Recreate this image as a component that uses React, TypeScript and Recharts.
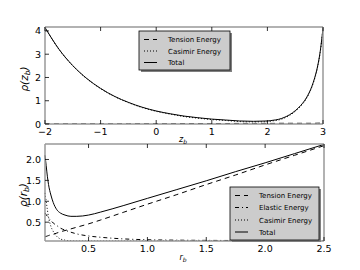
import React from "react";
import { LineChart, Line, XAxis, YAxis } from "recharts";

const zTop = [-2, -1.75, -1.5, -1.25, -1, -0.75, -0.5, -0.25, 0, 0.25, 0.5, 0.75, 1, 1.25, 1.5, 1.75, 2, 2.1, 2.2, 2.3, 2.4, 2.5, 2.6, 2.7, 2.8, 2.85, 2.9, 2.95, 3];
const totalTop = [4.15, 3.22, 2.51, 1.96, 1.53, 1.19, 0.93, 0.72, 0.56, 0.44, 0.34, 0.27, 0.21, 0.17, 0.13, 0.115, 0.13, 0.16, 0.2, 0.28, 0.4, 0.57, 0.8, 1.12, 1.62, 1.98, 2.45, 3.12, 4.12];
const tensionTop = [0.01, 0.01, 0.01, 0.01, 0.01, 0.01, 0.01, 0.015, 0.015, 0.015, 0.02, 0.02, 0.02, 0.02, 0.025, 0.025, 0.025, 0.025, 0.03, 0.03, 0.03, 0.03, 0.03, 0.03, 0.03, 0.03, 0.035, 0.035, 0.035];
const casimirTop = [4.14, 3.21, 2.5, 1.95, 1.52, 1.18, 0.92, 0.705, 0.545, 0.425, 0.32, 0.25, 0.19, 0.15, 0.105, 0.09, 0.1, 0.135, 0.17, 0.25, 0.37, 0.54, 0.77, 1.09, 1.59, 1.95, 2.415, 3.085, 4.085];
const zTicks = [-2, -1, 0, 1, 2, 3];
const rhoZTicks = [0, 1, 2, 3, 4];

const rBot = [0.13, 0.14, 0.15, 0.16, 0.18, 0.2, 0.23, 0.26, 0.3, 0.35, 0.4, 0.5, 0.6, 0.8, 1.0, 1.25, 1.5, 1.75, 2.0, 2.25, 2.5];
const totalBot = [2.1, 1.85, 1.6, 1.4, 1.15, 0.97, 0.8, 0.72, 0.67, 0.64, 0.64, 0.67, 0.74, 0.9, 1.07, 1.28, 1.49, 1.71, 1.92, 2.14, 2.36];
const tensionBot = [0.15, 0.16, 0.17, 0.18, 0.2, 0.21, 0.24, 0.27, 0.3, 0.34, 0.38, 0.46, 0.55, 0.74, 0.93, 1.16, 1.4, 1.63, 1.87, 2.1, 2.33];
const elasticBot = [0.72, 0.68, 0.64, 0.6, 0.54, 0.48, 0.42, 0.36, 0.31, 0.26, 0.22, 0.17, 0.14, 0.1, 0.08, 0.07, 0.065, 0.062, 0.06, 0.058, 0.056];
const casimirBot = [1.2, 1.0, 0.8, 0.62, 0.4, 0.28, 0.16, 0.1, 0.07, 0.055, 0.05, 0.05, 0.05, 0.05, 0.05, 0.05, 0.05, 0.05, 0.05, 0.05, 0.05];
const rTicks = [0.5, 1.0, 1.5, 2.0, 2.5];
const rhoRTicks = [0.5, 1.0, 1.5, 2.0];

const topData = zTop.map((z, i) => ({ z, total: totalTop[i], tension: tensionTop[i], casimir: casimirTop[i] }));
const botData = rBot.map((r, i) => ({ r, total: totalBot[i], tension: tensionBot[i], elastic: elasticBot[i], casimir: casimirBot[i] }));

const FONT = "DejaVu Sans";
const FRAME = { stroke: "#999999", strokeWidth: 1.5 };
const DASH = "5 4";
const DOT = "1 2";
const DASHDOT = "4 3 1 3";

const fmtInt = (v: number) => (v < 0 ? "\u2212" + Math.abs(v) : String(v));
const fmt1 = (v: number) => v.toFixed(1);

const BottomTick = (fmt: (v: number) => string) => (props: any) => {
  const { x, y, payload } = props;
  return (
    <g>
      <line x1={x} x2={x} y1={y} y2={y - 4} stroke="#000" strokeWidth={0.8} />
      <text x={x} y={y + 10.5} textAnchor="middle" fontSize={9.5} fontFamily={FONT} fill="#000">
        {fmt(payload.value)}
      </text>
    </g>
  );
};
const LeftTick = (fmt: (v: number) => string) => (props: any) => {
  const { x, y, payload } = props;
  return (
    <g>
      <line x1={x} x2={x + 4} y1={y} y2={y} stroke="#000" strokeWidth={0.8} />
      <text x={x - 4} y={y + 3.5} textAnchor="end" fontSize={9.5} fontFamily={FONT} fill="#000">
        {fmt(payload.value)}
      </text>
    </g>
  );
};
const TopTick = (props: any) => {
  const { x, y } = props;
  return <line x1={x} x2={x} y1={y} y2={y + 4} stroke="#000" strokeWidth={0.8} />;
};
const RightTick = (props: any) => {
  const { x, y } = props;
  return <line x1={x} x2={x - 4} y1={y} y2={y} stroke="#000" strokeWidth={0.8} />;
};

const LegendBox = ({ x, y, w, h, items }: { x: number; y: number; w: number; h: number; items: { label: string; dash?: string; ly: number }[] }) => (
  <g>
    <rect x={x + 2} y={y + 2} width={w} height={h} fill="#808080" />
    <rect x={x} y={y} width={w} height={h} fill="#cccccc" stroke="#000" strokeWidth={0.8} />
    {items.map((it) => (
      <g key={it.label}>
        <line x1={x + 5} x2={x + 18} y1={it.ly} y2={it.ly} stroke="#000" strokeWidth={1} strokeDasharray={it.dash} />
        <text x={x + 29} y={it.ly + 2.5} fontSize={7} fontFamily={FONT} fill="#000">
          {it.label}
        </text>
      </g>
    ))}
  </g>
);

export default function App() {
  return (
    <div style={{ position: "absolute", left: 0, top: 0, width: 360, height: 270, background: "#fff" }}>
      <div style={{ position: "absolute", left: 0, top: 0 }}>
        <LineChart width={360} height={150} data={topData} margin={{ top: 26, right: 36, bottom: 25, left: 44 }}>
          <XAxis dataKey="z" type="number" domain={[-2, 3]} ticks={zTicks} height={1} tickSize={0} tickMargin={0} axisLine={FRAME} tickLine={false} tick={BottomTick(fmtInt)} interval={0} />
          <XAxis xAxisId="t" dataKey="z" type="number" orientation="top" domain={[-2, 3]} ticks={zTicks} height={1} tickSize={0} tickMargin={0} axisLine={FRAME} tickLine={false} tick={TopTick} interval={0} />
          <YAxis type="number" domain={[0, 4.17]} ticks={rhoZTicks} width={1} tickSize={0} tickMargin={0} axisLine={FRAME} tickLine={false} tick={LeftTick(String)} allowDataOverflow interval={0} />
          <YAxis yAxisId="r" type="number" orientation="right" domain={[0, 4.17]} ticks={rhoZTicks} width={1} tickSize={0} tickMargin={0} axisLine={FRAME} tickLine={false} tick={RightTick} interval={0} />
          <Line dataKey="tension" type="monotone" stroke="#000" strokeWidth={1} strokeDasharray={DASH} dot={false} isAnimationActive={false} />
          <Line dataKey="casimir" type="monotone" stroke="#000" strokeWidth={1} strokeDasharray={DOT} dot={false} isAnimationActive={false} />
          <Line dataKey="total" type="monotone" stroke="#000" strokeWidth={1} dot={false} isAnimationActive={false} />
        </LineChart>
      </div>
      <div style={{ position: "absolute", left: 0, top: 135 }}>
        <LineChart width={360} height={135} data={botData} margin={{ top: 8, right: 35, bottom: 28, left: 44 }}>
          <XAxis dataKey="r" type="number" domain={[0.13, 2.5]} ticks={rTicks} height={1} tickSize={0} tickMargin={0} axisLine={FRAME} tickLine={false} tick={BottomTick(fmt1)} interval={0} />
          <XAxis xAxisId="t" dataKey="r" type="number" orientation="top" domain={[0.13, 2.5]} ticks={rTicks} height={1} tickSize={0} tickMargin={0} axisLine={FRAME} tickLine={false} tick={TopTick} interval={0} />
          <YAxis type="number" domain={[0.05, 2.37]} ticks={rhoRTicks} width={1} tickSize={0} tickMargin={0} axisLine={FRAME} tickLine={false} tick={LeftTick(fmt1)} allowDataOverflow interval={0} />
          <YAxis yAxisId="r" type="number" orientation="right" domain={[0.05, 2.37]} ticks={rhoRTicks} width={1} tickSize={0} tickMargin={0} axisLine={FRAME} tickLine={false} tick={RightTick} interval={0} />
          <Line dataKey="tension" type="monotone" stroke="#000" strokeWidth={1} strokeDasharray={DASH} dot={false} isAnimationActive={false} />
          <Line dataKey="elastic" type="monotone" stroke="#000" strokeWidth={1} strokeDasharray={DASHDOT} dot={false} isAnimationActive={false} />
          <Line dataKey="casimir" type="monotone" stroke="#000" strokeWidth={1} strokeDasharray={DOT} dot={false} isAnimationActive={false} />
          <Line dataKey="total" type="monotone" stroke="#000" strokeWidth={1} dot={false} isAnimationActive={false} />
        </LineChart>
      </div>
      <svg width={360} height={270} style={{ position: "absolute", left: 0, top: 0, pointerEvents: "none" }}>
        <LegendBox
          x={139}
          y={31}
          w={91}
          h={39}
          items={[
            { label: "Tension Energy", dash: DASH, ly: 39.5 },
            { label: "Casimir Energy", dash: DOT, ly: 51 },
            { label: "Total", ly: 62.5 },
          ]}
        />
        <LegendBox
          x={230}
          y={187}
          w={89}
          h={53}
          items={[
            { label: "Tension Energy", dash: DASH, ly: 195.5 },
            { label: "Elastic Energy", dash: DASHDOT, ly: 207.5 },
            { label: "Casimir Energy", dash: DOT, ly: 220 },
            { label: "Total", ly: 232 },
          ]}
        />
        <text transform="translate(28,79) rotate(-90)" textAnchor="middle" fontSize={10.5} fontFamily={FONT} fontStyle="italic" fill="#000">
          ρ(z<tspan fontSize={7.5} dy={2}>b</tspan><tspan dy={-2}>)</tspan>
        </text>
        <text transform="translate(27,195) rotate(-90)" textAnchor="middle" fontSize={10.5} fontFamily={FONT} fontStyle="italic" fill="#000">
          ρ(r<tspan fontSize={7.5} dy={2}>b</tspan><tspan dy={-2}>)</tspan>
        </text>
        <text x={183} y={142} textAnchor="middle" fontSize={8} fontFamily={FONT} fontStyle="italic" fill="#000">
          z<tspan fontSize={6} dy={1.5}>b</tspan>
        </text>
        <text x={183} y={260} textAnchor="middle" fontSize={8} fontFamily={FONT} fontStyle="italic" fill="#000">
          r<tspan fontSize={6} dy={1.5}>b</tspan>
        </text>
      </svg>
    </div>
  );
}
